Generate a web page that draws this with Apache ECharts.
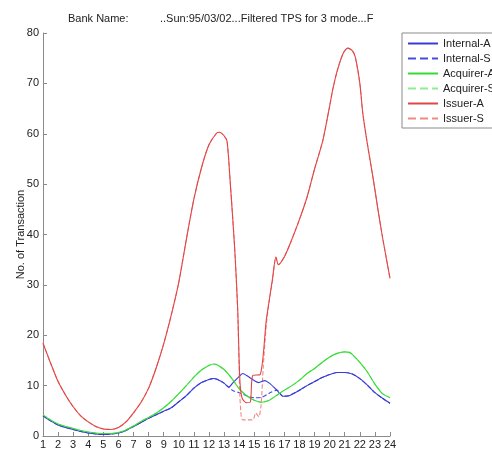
<!DOCTYPE html>
<html>
<head>
<meta charset="utf-8">
<script src="https://cdn.jsdelivr.net/npm/echarts@6/dist/echarts.min.js"></script>
<style>
html,body{margin:0;padding:0;background:#fff;}
#chart{width:492px;height:450px;}
</style>
</head>
<body>
<div id="chart"></div>
<script>
// ---- data (hour, transactions) ----
const titleLeft = 'Bank Name:';
const titleRight = '..Sun:95/03/02...Filtered TPS for 3 mode...F';
const yAxisName = 'No. of Transaction';
const seriesNames = ['Internal-A','Internal-S','Acquirer-A','Acquirer-S','Issuer-A','Issuer-S'];

const internalA = [[1,4.0],[1.5,3.0],[2,2.2],[2.5,1.7],[3,1.3],[3.5,0.9],[4,0.6],[4.5,0.4],[5,0.3],[5.5,0.4],[6,0.6],[6.5,1.1],[7,1.9],[7.5,2.7],[8,3.5],[8.5,4.2],[9,4.9],[9.5,5.6],[10,6.8],[10.5,8.0],[11,9.5],[11.5,10.6],[12,11.2],[12.3,11.4],[12.5,11.3],[13,10.5],[13.3,9.7],[13.6,10.6],[14,11.8],[14.25,12.4],[14.5,12.0],[15,11.0],[15.3,10.6],[15.7,11.0],[16,10.5],[16.5,9.1],[16.9,7.9],[17.3,8.0],[18,9.1],[18.5,10.0],[19,10.8],[19.5,11.6],[20,12.2],[20.5,12.6],[21,12.6],[21.5,12.3],[22,11.4],[22.5,10.1],[23,8.6],[23.5,7.5],[24,6.5]];
const internalS = [[1,4.0],[1.5,3.0],[2,2.2],[2.5,1.7],[3,1.3],[3.5,0.9],[4,0.6],[4.5,0.4],[5,0.3],[5.5,0.4],[6,0.6],[6.5,1.1],[7,1.9],[7.5,2.7],[8,3.5],[8.5,4.2],[9,4.9],[9.5,5.6],[10,6.8],[10.5,8.0],[11,9.5],[11.5,10.6],[12,11.2],[12.3,11.4],[12.5,11.3],[13,10.5],[13.3,9.7],[13.6,9.0],[14,8.6],[14.5,8.0],[15,7.6],[15.5,7.7],[16,8.5],[16.5,9.1],[16.9,7.9],[17.3,8.0],[18,9.1],[18.5,10.0],[19,10.8],[19.5,11.6],[20,12.2],[20.5,12.6],[21,12.6],[21.5,12.3],[22,11.4],[22.5,10.1],[23,8.6],[23.5,7.5],[24,6.5]];
const acquirerA = [[1,4.2],[1.5,3.2],[2,2.4],[2.5,1.9],[3,1.5],[3.5,1.1],[4,0.8],[4.5,0.6],[5,0.5],[5.5,0.5],[6,0.7],[6.5,1.2],[7,2.0],[7.5,2.9],[8,3.7],[8.5,4.5],[9,5.6],[9.5,6.9],[10,8.4],[10.5,10.0],[11,11.7],[11.5,13.1],[12,14.0],[12.3,14.3],[12.5,14.2],[13,13.2],[13.5,11.5],[14,9.4],[14.5,8.0],[15,7.1],[15.5,6.7],[16,7.1],[16.5,8.1],[17,9.1],[17.5,10.0],[18,11.1],[18.5,12.4],[19,13.4],[19.5,14.6],[20,15.7],[20.5,16.4],[21,16.7],[21.3,16.6],[21.5,16.2],[22,14.6],[22.5,12.7],[23,10.3],[23.5,8.4],[24,7.6]];
const acquirerS = [[1,4.2],[1.5,3.2],[2,2.4],[2.5,1.9],[3,1.5],[3.5,1.1],[4,0.8],[4.5,0.6],[5,0.5],[5.5,0.5],[6,0.7],[6.5,1.2],[7,2.0],[7.5,2.9],[8,3.7],[8.5,4.5],[9,5.6],[9.5,6.9],[10,8.4],[10.5,10.0],[11,11.7],[11.5,13.1],[12,14.0],[12.3,14.3],[12.5,14.2],[13,13.2],[13.5,11.5],[14,9.4],[14.5,8.0],[15,7.1],[15.5,6.7],[16,7.1],[16.5,8.1],[17,9.1],[17.5,10.0],[18,11.1],[18.5,12.4],[19,13.4],[19.5,14.6],[20,15.7],[20.5,16.4],[21,16.7],[21.3,16.6],[21.5,16.2],[22,14.6],[22.5,12.7],[23,10.3],[23.5,8.4],[24,7.6]];
const issuerA = [[1,18.4],[1.5,14.5],[2,10.8],[2.5,8.1],[3,5.8],[3.5,4.0],[4,2.8],[4.5,1.9],[5,1.4],[5.5,1.3],[6,1.7],[6.5,2.8],[7,4.6],[7.5,6.7],[8,9.5],[8.5,13.5],[9,18.3],[9.5,24],[10,30.5],[10.5,39],[11,47],[11.5,53.2],[12,57.8],[12.5,60.1],[12.7,60.3],[13,59.6],[13.2,58.5],[13.4,50.8],[13.7,37.5],[13.9,25.6],[14.05,11],[14.2,7.5],[14.5,6.6],[14.75,6.8],[14.9,12],[15.4,12.2],[15.8,23],[16.0,27],[16.2,31],[16.44,35.5],[16.6,34.0],[17,35.6],[17.4,38.3],[18,43],[18.5,47.4],[19,53],[19.55,58.7],[20,65.5],[20.2,68.7],[20.5,72.5],[20.9,76],[21.2,77],[21.5,76.5],[21.7,75.2],[22,70],[22.2,64],[22.5,58],[22.9,50.8],[23.2,45],[23.5,39.5],[24,31.3]];
const issuerS = [[1,18.4],[1.5,14.5],[2,10.8],[2.5,8.1],[3,5.8],[3.5,4.0],[4,2.8],[4.5,1.9],[5,1.4],[5.5,1.3],[6,1.7],[6.5,2.8],[7,4.6],[7.5,6.7],[8,9.5],[8.5,13.5],[9,18.3],[9.5,24],[10,30.5],[10.5,39],[11,47],[11.5,53.2],[12,57.8],[12.5,60.1],[12.7,60.3],[13,59.6],[13.2,58.5],[13.4,50.8],[13.7,37.5],[13.9,25],[14.05,8],[14.15,3.6],[14.25,3.2],[14.9,3.2],[15.1,4.6],[15.3,3.8],[15.45,6],[15.6,13.7],[15.8,22],[16.0,27],[16.2,30.5],[16.44,35.5],[16.6,34.0],[17,35.6],[17.4,38.3],[18,43],[18.5,47.4],[19,53],[19.55,58.7],[20,65.5],[20.2,68.7],[20.5,72.5],[20.9,76],[21.2,77],[21.5,76.5],[21.7,75.2],[22,70],[22.2,64],[22.5,58],[22.9,50.8],[23.2,45],[23.5,39.5],[24,31.3]];

const seriesData = [internalA, internalS, acquirerA, acquirerS, issuerA, issuerS];
const colors = ['#3a3ad6','#4a4ae0','#35dc35','#8fec8f','#e04646','#f08a80'];
const dashes = ['solid','dashed','solid','dashed','solid','dashed'];

const FONT = '"Liberation Sans", Arial, sans-serif';
const chart = echarts.init(document.getElementById('chart'), null, {renderer:'canvas'});

const order = [1,3,5,0,2,4];
const series = order.map(i => ({
  name: seriesNames[i],
  type: 'line',
  data: seriesData[i],
  symbol: 'none',
  smooth: 0.25,
  animation: false,
  lineStyle: {color: colors[i], width: 1.1, type: dashes[i]},
  itemStyle: {color: colors[i]}
}));

chart.setOption({
  backgroundColor: '#fff',
  animation: false,
  textStyle: {fontFamily: FONT},
  graphic: [
    {type:'text', left: 68, top: 13, style:{text: titleLeft, font: '11px ' + FONT, fill:'#222'}},
    {type:'text', left: 160, top: 13, style:{text: titleRight, font: '11px ' + FONT, fill:'#222'}}
  ],
  legend: {
    data: seriesNames,
    orient: 'vertical',
    left: 402, top: 33,
    padding: [4, 30, 3, 5],
    itemWidth: 30, itemHeight: 10, itemGap: 2,
    borderColor: '#8a8a8a', borderWidth: 1,
    backgroundColor: '#fff',
    itemStyle: {opacity: 0},
    textStyle: {fontFamily: FONT, fontSize: 11, color:'#222', lineHeight: 13},
    selectedMode: false
  },
  grid: {left: 43, right: 102, top: 33, bottom: 14, containLabel: false},
  xAxis: {
    type: 'value', min: 1, max: 24, interval: 1,
    axisLine: {show: true, onZero: false, lineStyle:{color:'#8a8a8a', width:1}},
    axisTick: {show: true, inside: true, length: 4, lineStyle:{color:'#8a8a8a'}},
    axisLabel: {fontFamily: FONT, fontSize: 11, color:'#222', margin: 3},
    splitLine: {show: false}
  },
  yAxis: {
    type: 'value', min: 0, max: 80, interval: 10,
    name: yAxisName, nameLocation: 'middle', nameGap: 17, nameMoveOverlap: false,
    nameTextStyle: {fontFamily: FONT, fontSize: 11, color:'#222'},
    axisLine: {show: true, lineStyle:{color:'#8a8a8a', width:1}},
    axisTick: {show: true, inside: true, length: 4, lineStyle:{color:'#8a8a8a'}},
    axisLabel: {fontFamily: FONT, fontSize: 11, color:'#222', margin: 4},
    splitLine: {show: false}
  },
  series: series
});
</script>
</body>
</html>
